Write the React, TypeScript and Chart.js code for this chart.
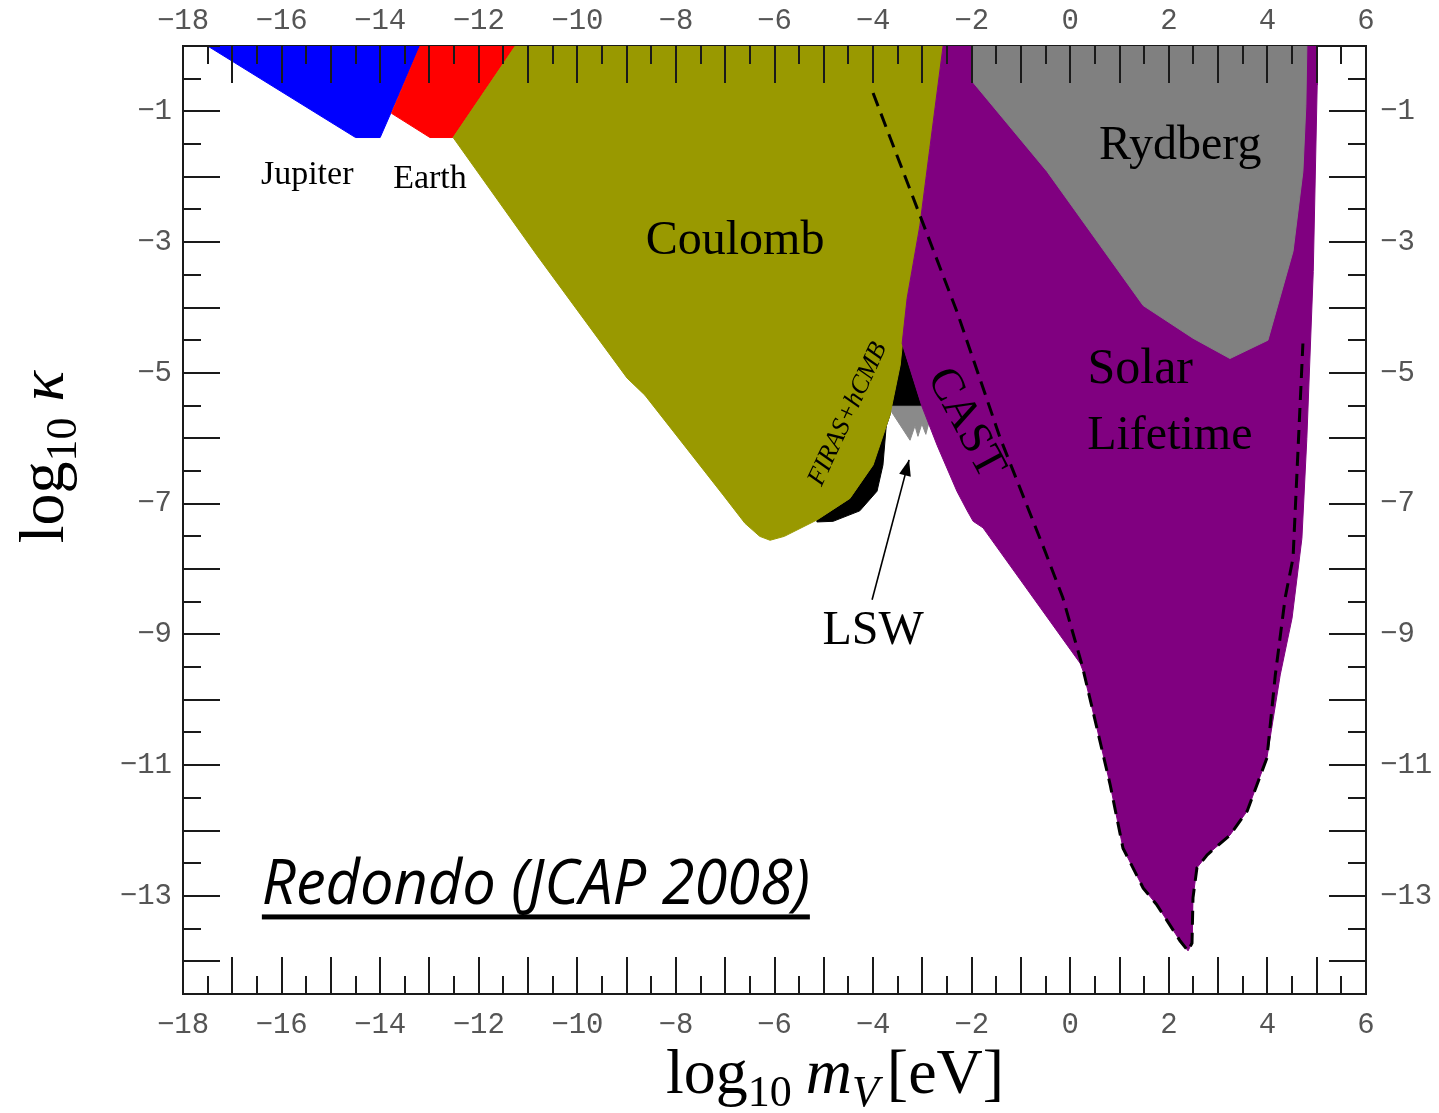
import React, { useEffect, useRef } from 'react';
import { Chart, registerables } from 'chart.js';

Chart.register(...registerables);

// ---- axis tick labels ----
const xTickLabels = [-18, -16, -14, -12, -10, -8, -6, -4, -2, 0, 2, 4, 6];
const yTickLabels = [-1, -3, -5, -7, -9, -11, -13];

// ---- excluded regions (log10 mV [eV], log10 kappa) ----
const jupiterX = [-17.5, -14.5, -14.0, -13.19];
const jupiterY = [0, -1.4, -1.4, 0];

const earthX = [-13.19, -13.77, -12.99, -12.52, -11.26];
const earthY = [0, -1.03, -1.4, -1.4, 0];

const coulombX = [-11.26, -12.52, -10.82, -8.99, -8.63, -7.04, -6.6, -6.3, -6.09, -5.8, -5.14, -4.47, -4.0, -3.66, -3.45, -3.31, -3.05, -2.85, -2.58];
const coulombY = [0, -1.4, -3.2, -5.08, -5.34, -6.87, -7.3, -7.5, -7.56, -7.5, -7.25, -6.92, -6.41, -5.65, -4.88, -3.86, -2.74, -1.57, 0];

const firasX = [-5.14, -4.47, -4.0, -3.66, -3.45, -3.41, -3.01, -3.7, -3.8, -3.92, -4.27, -4.81, -5.14];
const firasY = [-7.25, -6.92, -6.41, -5.65, -4.88, -4.55, -5.51, -5.51, -6.41, -6.81, -7.11, -7.27, -7.28];

const lswX = [-3.7, -3.25, -3.15, -3.09, -3.01, -2.93, -2.87, -3.01];
const lswY = [-5.51, -6.03, -5.81, -5.97, -5.78, -5.94, -5.77, -5.51];

const solarX = [-2.58, 5.01, 5.01, 4.93, 4.8, 4.7, 4.5, 4.26, 3.99, 3.59, 3.24, 2.78, 2.57, 2.49, 2.47, 2.39, 2.23, 1.76, 1.48, 1.07, 0.81, 0.54, 0.26, 0.2, -1.77, -1.97, -2.09, -2.3, -2.7, -3.01, -3.41, -3.31, -3.05, -2.85];
const solarY = [0, 0, -0.6, -3.45, -6.0, -7.53, -8.75, -9.62, -10.89, -11.7, -12.07, -12.37, -12.57, -13.03, -13.72, -13.84, -13.69, -13.14, -12.88, -12.27, -11.3, -10.43, -9.56, -9.44, -7.37, -7.27, -7.11, -6.81, -6.11, -5.51, -4.55, -3.86, -2.74, -1.57];

const rydbergX = [-1.99, -1.99, -0.47, 1.48, 2.49, 3.24, 4.01, 4.52, 4.72, 4.78, 4.8];
const rydbergY = [0, -0.54, -1.92, -3.97, -4.47, -4.78, -4.5, -3.14, -1.92, -0.91, 0];

// CAST / solar dashed bound
const castX = [-4.0, -3.05, -2.3, -1.42, -0.51, -0.15, 0.24, 0.54, 0.81, 1.07, 1.48, 1.76, 2.23, 2.39, 2.47, 2.49, 2.57, 2.78, 3.24, 3.59, 3.99, 4.16, 4.36, 4.52, 4.72];
const castY = [-0.72, -2.59, -4.06, -6.0, -7.73, -8.44, -9.47, -10.43, -11.3, -12.27, -12.88, -13.14, -13.69, -13.84, -13.72, -13.03, -12.57, -12.37, -12.07, -11.7, -10.89, -9.62, -8.44, -7.83, -4.55];

// LSW arrow (tail -> tip)
const arrowX = [-4.02, -3.27];
const arrowY = [-8.47, -6.33];

// ---- text labels ----
const labelTexts = ['Jupiter', 'Earth', 'Coulomb', 'Rydberg', 'Solar', 'Lifetime', 'LSW', 'CAST', 'FIRAS+hCMB'];
const labelX = [-15.48, -12.99, -6.8, 2.23, 1.42, 2.02, -4.0, -2.13, -4.51];
const labelY = [-1.98, -2.03, -2.99, -1.53, -4.96, -5.97, -8.95, -5.77, -5.63];
const labelSize = [34, 34, 48, 48, 50, 48, 48, 46, 26];
const labelRot = [0, 0, 0, 0, 0, 0, 0, 62, -65];
const labelItalic = [false, false, false, false, false, false, false, false, true];

const creditText = 'Redondo (JCAP 2008)';
const creditX = -16.4;
const creditY = -13.13;

const fmt = (v: number) => (v < 0 ? '\u2212' + Math.abs(v) : String(v));

const poly = (xs: number[], ys: number[], color: string, order: number) => ({
  type: 'line' as const,
  data: xs.map((x, i) => ({ x, y: ys[i] })).concat([{ x: xs[0], y: ys[0] }]),
  backgroundColor: color,
  borderColor: color,
  borderWidth: 1,
  pointRadius: 0,
  showLine: true,
  tension: 0,
  fill: 'shape' as const,
  order,
});

const curve = (xs: number[], ys: number[], width: number, dash: number[], order: number) => ({
  type: 'line' as const,
  data: xs.map((x, i) => ({ x, y: ys[i] })),
  borderColor: '#000',
  backgroundColor: '#000',
  borderWidth: width,
  borderDash: dash,
  pointRadius: 0,
  showLine: true,
  tension: 0,
  fill: false,
  order,
});

const serif = '"Liberation Serif", "DejaVu Serif", serif';

type Part = { t: string; s: number; it?: boolean; dy?: number; gap?: number };

function drawParts(ctx: CanvasRenderingContext2D, parts: Part[], cx: number, base: number) {
  let total = 0;
  const widths: number[] = [];
  for (const p of parts) {
    ctx.font = `${p.it ? 'italic ' : ''}${p.s}px ${serif}`;
    const w = ctx.measureText(p.t).width + (p.gap || 0);
    widths.push(w);
    total += w;
  }
  let x = cx - total / 2;
  ctx.textAlign = 'left';
  ctx.textBaseline = 'alphabetic';
  parts.forEach((p, i) => {
    ctx.font = `${p.it ? 'italic ' : ''}${p.s}px ${serif}`;
    ctx.fillText(p.t, x, base + (p.dy || 0));
    x += widths[i];
  });
}

const overlay = {
  id: 'overlay',
  afterDraw(chart: any) {
    const ctx: CanvasRenderingContext2D = chart.ctx;
    const xs = chart.scales.x;
    const ys = chart.scales.y;
    const { left, right, top, bottom } = chart.chartArea;
    ctx.save();
    // inner tick marks on all four sides
    ctx.strokeStyle = '#1a1a1a';
    ctx.lineWidth = 2;
    ctx.beginPath();
    for (const t of xs.ticks) {
      const px = Math.round(xs.getPixelForValue(t.value));
      const len = Number.isInteger(t.value) ? 37 : 18;
      ctx.moveTo(px, bottom); ctx.lineTo(px, bottom - len);
      ctx.moveTo(px, top); ctx.lineTo(px, top + len);
    }
    for (const t of ys.ticks) {
      const py = Math.round(ys.getPixelForValue(t.value));
      const len = Number.isInteger(t.value) ? 37 : 18;
      ctx.moveTo(left, py); ctx.lineTo(left + len, py);
      ctx.moveTo(right, py); ctx.lineTo(right - len, py);
    }
    ctx.stroke();

    // region labels
    ctx.fillStyle = '#000';
    labelTexts.forEach((txt, i) => {
      const px = xs.getPixelForValue(labelX[i]);
      const py = ys.getPixelForValue(labelY[i]);
      ctx.save();
      ctx.translate(px, py);
      ctx.rotate((labelRot[i] * Math.PI) / 180);
      ctx.font = `${labelItalic[i] ? 'italic ' : ''}${labelSize[i]}px ${serif}`;
      ctx.textAlign = 'center';
      ctx.textBaseline = 'middle';
      ctx.fillText(txt, 0, 0);
      ctx.restore();
    });

    // arrow head for LSW
    const meta = chart.getDatasetMeta(chart.data.datasets.length - 1);
    const p0 = meta.data[0];
    const p1 = meta.data[1];
    if (p0 && p1) {
      const ang = Math.atan2(p1.y - p0.y, p1.x - p0.x);
      const L = 16, W = 6;
      ctx.beginPath();
      ctx.moveTo(p1.x, p1.y);
      ctx.lineTo(p1.x - L * Math.cos(ang) + W * Math.sin(ang), p1.y - L * Math.sin(ang) - W * Math.cos(ang));
      ctx.lineTo(p1.x - L * Math.cos(ang) - W * Math.sin(ang), p1.y - L * Math.sin(ang) + W * Math.cos(ang));
      ctx.closePath();
      ctx.fill();
    }

    // credit
    const cx = xs.getPixelForValue(creditX);
    const cy = ys.getPixelForValue(creditY);
    const targetW = 548;
    ctx.font = 'italic 62px "Open Sans", "Noto Sans", sans-serif';
    const mw = ctx.measureText(creditText).width;
    ctx.save();
    ctx.translate(cx, cy);
    ctx.scale(targetW / mw, 1);
    ctx.textAlign = 'left';
    ctx.textBaseline = 'alphabetic';
    ctx.fillText(creditText, 0, 0);
    ctx.restore();
    ctx.fillRect(cx, cy + 10, targetW, 5);

    // axis titles
    drawParts(ctx, [
      { t: 'log', s: 64 },
      { t: '10', s: 44, dy: 13, gap: 14 },
      { t: 'm', s: 64, it: true },
      { t: 'V', s: 44, it: true, dy: 13, gap: 8 },
      { t: '[eV]', s: 64 },
    ], 835, 1093);
    ctx.save();
    ctx.translate(63, 457);
    ctx.rotate(-Math.PI / 2);
    drawParts(ctx, [
      { t: 'log', s: 64 },
      { t: '10', s: 44, dy: 13, gap: 16 },
      { t: '\u03BA', s: 64, it: true },
    ], 0, 0);
    ctx.restore();
    ctx.restore();
  },
};

const tickFont = { family: '"Liberation Mono", "DejaVu Sans Mono", monospace', size: 29 };

const xAxis = (position: 'bottom' | 'top', h: number, pad: number) => ({
  type: 'linear' as const,
  position,
  min: -18,
  max: 6,
  z: 1,
  afterFit: (s: any) => { s.height = h; },
  grid: { display: false, drawTicks: false },
  border: { display: true, color: '#1a1a1a', width: 2 },
  ticks: {
    stepSize: 0.5,
    autoSkip: false,
    maxRotation: 0,
    padding: pad,
    color: '#555',
    font: tickFont,
    callback: (v: any) => (xTickLabels.includes(Number(v)) ? fmt(Number(v)) : ''),
  },
});

const yAxis = (position: 'left' | 'right', w: number, pad: number) => ({
  type: 'linear' as const,
  position,
  min: -14.5,
  max: 0,
  z: 1,
  afterFit: (s: any) => { s.width = w; },
  grid: { display: false, drawTicks: false },
  border: { display: true, color: '#1a1a1a', width: 2 },
  ticks: {
    stepSize: 0.5,
    autoSkip: false,
    padding: pad,
    color: '#555',
    font: tickFont,
    callback: (v: any) => (yTickLabels.includes(Number(v)) ? fmt(Number(v)) : ''),
  },
});

export default function App() {
  const ref = useRef<HTMLCanvasElement | null>(null);
  useEffect(() => {
    if (!ref.current) return;
    const chart = new Chart(ref.current, {
      type: 'scatter',
      data: {
        datasets: [
          poly(jupiterX, jupiterY, '#0000ff', 10),
          poly(earthX, earthY, '#ff0000', 9),
          poly(firasX, firasY, '#000000', 8),
          poly(lswX, lswY, '#8a8a8a', 7),
          poly(coulombX, coulombY, '#999900', 6),
          poly(solarX, solarY, '#800080', 5),
          poly(rydbergX, rydbergY, '#808080', 4),
          curve(castX, castY, 3, [14, 8], 2),
          curve(arrowX, arrowY, 1.6, [], 1),
        ] as any,
      },
      options: {
        animation: false,
        responsive: false,
        maintainAspectRatio: false,
        events: [],
        layout: { padding: 0 },
        plugins: { legend: { display: false }, tooltip: { enabled: false }, title: { display: false } },
        scales: {
          x: xAxis('bottom', 119, 14),
          x2: xAxis('top', 46, 7),
          y: yAxis('left', 183, 11),
          y2: yAxis('right', 73, 14),
        } as any,
      },
      plugins: [overlay],
    });
    return () => chart.destroy();
  }, []);
  return (
    <div style={{ position: 'absolute', left: 0, top: 0, width: 1439, height: 1113, background: '#fff' }}>
      <canvas ref={ref} width={1439} height={1113} style={{ width: 1439, height: 1113, display: 'block' }} />
    </div>
  );
}
